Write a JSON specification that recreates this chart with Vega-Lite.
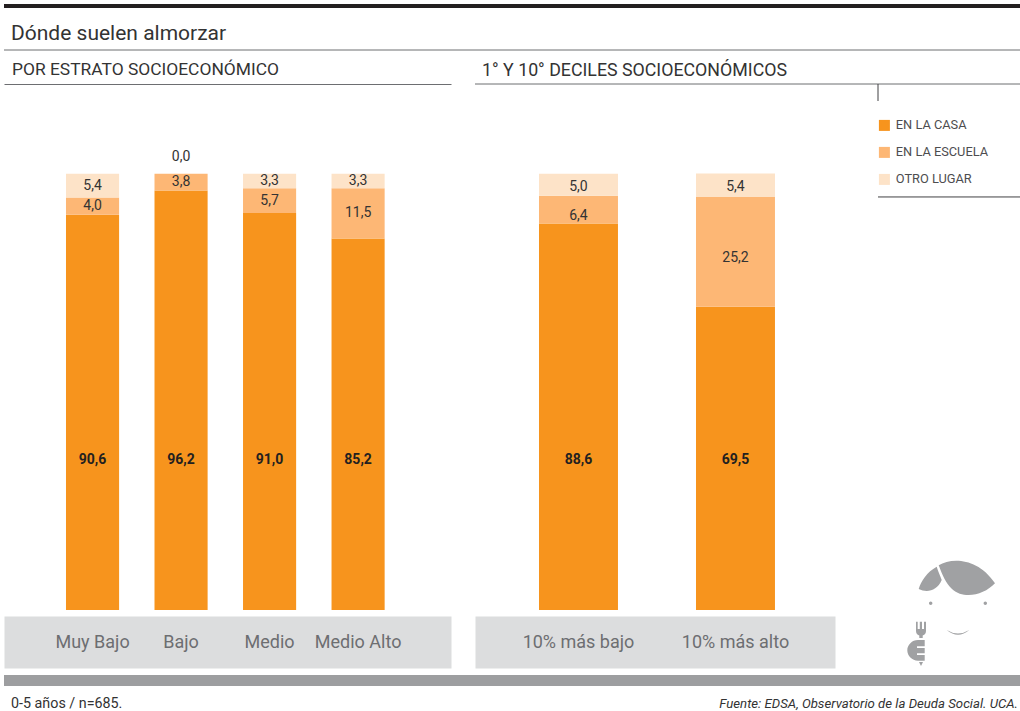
{
"$schema":"https://vega.github.io/schema/vega-lite/v6.json",
"padding":{"left":2,"top":4,"right":0,"bottom":0},
"background":"white",
"spacing":7,
"config":{"view":{"stroke":null},"font":"Roboto","title":{"font":"Roboto","fontWeight":"normal","color":"#333333"}},
"datasets":{
"estrato":[
{"cat":"Muy Bajo","grupo":"EN LA CASA","orden":1,"valor":90.6,"etiqueta":"90,6"},
{"cat":"Muy Bajo","grupo":"EN LA ESCUELA","orden":2,"valor":4.0,"etiqueta":"4,0"},
{"cat":"Muy Bajo","grupo":"OTRO LUGAR","orden":3,"valor":5.4,"etiqueta":"5,4"},
{"cat":"Bajo","grupo":"EN LA CASA","orden":1,"valor":96.2,"etiqueta":"96,2"},
{"cat":"Bajo","grupo":"EN LA ESCUELA","orden":2,"valor":3.8,"etiqueta":"3,8"},
{"cat":"Bajo","grupo":"OTRO LUGAR","orden":3,"valor":0.0,"etiqueta":"0,0"},
{"cat":"Medio","grupo":"EN LA CASA","orden":1,"valor":91.0,"etiqueta":"91,0"},
{"cat":"Medio","grupo":"EN LA ESCUELA","orden":2,"valor":5.7,"etiqueta":"5,7"},
{"cat":"Medio","grupo":"OTRO LUGAR","orden":3,"valor":3.3,"etiqueta":"3,3"},
{"cat":"Medio Alto","grupo":"EN LA CASA","orden":1,"valor":85.2,"etiqueta":"85,2"},
{"cat":"Medio Alto","grupo":"EN LA ESCUELA","orden":2,"valor":11.5,"etiqueta":"11,5"},
{"cat":"Medio Alto","grupo":"OTRO LUGAR","orden":3,"valor":3.3,"etiqueta":"3,3"}],
"deciles":[
{"cat":"10% más bajo","grupo":"EN LA CASA","orden":1,"valor":88.6,"etiqueta":"88,6"},
{"cat":"10% más bajo","grupo":"EN LA ESCUELA","orden":2,"valor":6.4,"etiqueta":"6,4"},
{"cat":"10% más bajo","grupo":"OTRO LUGAR","orden":3,"valor":5.0,"etiqueta":"5,0"},
{"cat":"10% más alto","grupo":"EN LA CASA","orden":1,"valor":69.5,"etiqueta":"69,5"},
{"cat":"10% más alto","grupo":"EN LA ESCUELA","orden":2,"valor":25.2,"etiqueta":"25,2"},
{"cat":"10% más alto","grupo":"OTRO LUGAR","orden":3,"valor":5.4,"etiqueta":"5,4"}],
"fila":[{"n":1}]
},
"resolve":{"scale":{"color":"independent"},"legend":{"color":"independent"}},
"vconcat":[
{"width":1016,"height":47,
"title":{"text":"Dónde suelen almorzar","anchor":"start","frame":"group","offset":-40,"dx":7,"fontSize":21,"color":"#333333"},
"data":{"name":"fila"},
"layer":[
{"mark":{"type":"rule","color":"#231f20","strokeWidth":4},"encoding":{"y":{"datum":1,"type":"quantitative","scale":{"domain":[0,1]},"axis":null}}},
{"mark":{"type":"rule","color":"#6d6e71","strokeWidth":1},"encoding":{"y":{"datum":0.0638,"type":"quantitative","scale":{"domain":[0,1]},"axis":null}}}
]},
{"bounds":"flush","spacing":0,
"resolve":{"scale":{"color":"independent"},"legend":{"color":"independent"}},
"hconcat":[
{"width":471,"height":526,
"title":{"text":"POR ESTRATO SOCIOECONÓMICO","anchor":"start","frame":"group","offset":6,"dx":8,"fontSize":17.4,"color":"#333333"},
"data":{"name":"estrato"},
"transform":[
{"stack":"valor","groupby":["cat"],"sort":[{"field":"orden","order":"ascending"}],"as":["y0","y1"]},
{"calculate":"(datum.y0+datum.y1)/2","as":"medio"}],
"resolve":{"axis":{"x":"independent"}},
"layer":[
{"mark":{"type":"bar"},
"encoding":{
"x":{"field":"cat","type":"nominal","sort":["Muy Bajo","Bajo","Medio","Medio Alto"],
"scale":{"range":[0,447],"paddingInner":0.4,"paddingOuter":0.725,"align":0.483},
"axis":{"title":null,"orient":"bottom","offset":32,"domainWidth":52,"domainColor":"#dcddde","ticks":false,"labels":false}},
"y":{"field":"y0","type":"quantitative","scale":{"domain":[0,120.6],"nice":false},"axis":null},
"y2":{"field":"y1"},
"color":{"field":"grupo","type":"nominal","scale":{"domain":["EN LA CASA","EN LA ESCUELA","OTRO LUGAR"],"range":["#f7941d","#fdb775","#fde3c8"]},"legend":null}}},
{"transform":[{"filter":"datum.orden>1 && datum.valor>0"}],
"mark":{"type":"text","fontSize":14,"color":"#333333","baseline":"middle"},
"encoding":{"x":{"field":"cat","type":"nominal","sort":["Muy Bajo","Bajo","Medio","Medio Alto"],
"axis":{"title":null,"orient":"bottom","offset":32,"domain":false,"ticks":false,"labelAngle":0,"labelPadding":0,"labelBaseline":"middle","labelFontSize":18,"labelColor":"#6d6e71","labelFont":"Roboto"}},"y":{"field":"medio","type":"quantitative"},"text":{"field":"etiqueta"}}},
{"transform":[{"filter":"datum.valor==0"}],
"mark":{"type":"text","fontSize":14,"color":"#333333","baseline":"middle","dy":-17},
"encoding":{"x":{"field":"cat","type":"nominal","sort":["Muy Bajo","Bajo","Medio","Medio Alto"],
"axis":{"title":null,"orient":"top","domainColor":"#6d6e71","domainWidth":1,"ticks":false,"labels":false}},"y":{"field":"medio","type":"quantitative"},"text":{"field":"etiqueta"}}},
{"transform":[{"filter":"datum.orden==1"}],
"mark":{"type":"text","fontSize":14,"fontWeight":"bold","color":"#231f20","baseline":"middle"},
"encoding":{"x":{"field":"cat","type":"nominal","sort":["Muy Bajo","Bajo","Medio","Medio Alto"],"axis":null},"y":{"datum":34.5,"type":"quantitative"},"text":{"field":"etiqueta"}}}
]},
{"width":403,"height":526,
"title":{"text":"1° Y 10° DECILES SOCIOECONÓMICOS","anchor":"start","frame":"group","offset":4,"dx":7,"fontSize":17.8,"color":"#333333"},
"data":{"name":"deciles"},
"transform":[
{"stack":"valor","groupby":["cat"],"sort":[{"field":"orden","order":"ascending"}],"as":["y0","y1"]},
{"calculate":"(datum.y0+datum.y1)/2","as":"medio"}],
"resolve":{"axis":{"x":"independent"}},
"layer":[
{"mark":{"type":"bar"},
"encoding":{
"x":{"field":"cat","type":"nominal","sort":["10% más bajo","10% más alto"],
"scale":{"range":[0,360],"paddingInner":0.497,"paddingOuter":0.395,"align":0.516},
"axis":{"title":null,"orient":"bottom","offset":32,"domainWidth":52,"domainColor":"#dcddde","ticks":false,"labels":false}},
"y":{"field":"y0","type":"quantitative","scale":{"domain":[0,120.6],"nice":false},"axis":null},
"y2":{"field":"y1"},
"color":{"field":"grupo","type":"nominal","scale":{"domain":["EN LA CASA","EN LA ESCUELA","OTRO LUGAR"],"range":["#f7941d","#fdb775","#fde3c8"]},
"legend":{"title":null,"orient":"none","legendX":403,"legendY":35,"symbolType":"square","symbolSize":121,"symbolStrokeWidth":0,"labelFontSize":12.8,"labelColor":"#4d4d4f","labelFont":"Roboto","labelOffset":5,"rowPadding":13,"padding":0}}}},
{"transform":[{"filter":"datum.orden==3"}],
"mark":{"type":"text","fontSize":14,"color":"#333333","baseline":"middle","dy":2},
"encoding":{"x":{"field":"cat","type":"nominal","sort":["10% más bajo","10% más alto"],
"axis":{"title":null,"orient":"bottom","offset":32,"domain":false,"ticks":false,"labelAngle":0,"labelPadding":0,"labelBaseline":"middle","labelFontSize":18,"labelColor":"#6d6e71","labelFont":"Roboto"}},"y":{"field":"medio","type":"quantitative"},"text":{"field":"etiqueta"}}},
{"transform":[{"filter":"datum.orden==2"}],
"mark":{"type":"text","fontSize":14,"color":"#333333","baseline":"middle","dy":6},
"encoding":{"x":{"field":"cat","type":"nominal","sort":["10% más bajo","10% más alto"],"axis":null},"y":{"field":"medio","type":"quantitative"},"text":{"field":"etiqueta"}}},
{"transform":[{"filter":"datum.orden==1"}],
"mark":{"type":"text","fontSize":14,"fontWeight":"bold","color":"#231f20","baseline":"middle"},
"encoding":{"x":{"field":"cat","type":"nominal","sort":["10% más bajo","10% más alto"],"axis":null},"y":{"datum":34.5,"type":"quantitative"},"text":{"field":"etiqueta"}}},
{"data":{"name":"fila"},"transform":[],"mark":{"type":"rule","color":"#6d6e71","strokeWidth":1},"encoding":{"y":{"datum":120.6,"type":"quantitative"}}}
]},
{"width":142,"height":526,
"data":{"name":"fila"},
"layer":[
{"mark":{"type":"rule","color":"#6d6e71","strokeWidth":1},"encoding":{"y":{"datum":120.6,"type":"quantitative","scale":{"domain":[0,120.6],"nice":false},"axis":null}}},
{"mark":{"type":"rule","color":"#414042","strokeWidth":1},"encoding":{"x":{"datum":0,"type":"quantitative","scale":{"domain":[0,1]},"axis":null},"y":{"datum":120.6,"type":"quantitative"},"y2":{"datum":116.7}}},
{"mark":{"type":"rule","color":"#414042","strokeWidth":1},"encoding":{"y":{"datum":94.7,"type":"quantitative"}}},
{"mark":{"type":"point","filled":true,"opacity":1,"size":4,"strokeWidth":0,"color":"#a0a1a3",
"shape":"M-10.3 -44.7C2 -52 28 -53 46 -26.7C35 -15 15 -10 3 -21C-3 -26 -7 -36 -10.3 -44.7ZM-12.3 -43.3C-22 -38 -28 -29 -30.3 -21C-22 -17 -12 -19 -7.3 -30C-9 -35 -11 -39 -12.3 -43.3ZM-20 -6.7A1.7 1.7 0 1 0 -16.6 -6.7A1.7 1.7 0 1 0 -20 -6.7ZM34.6 -6.7A1.7 1.7 0 1 0 38 -6.7A1.7 1.7 0 1 0 34.6 -6.7ZM-2.3 20Q9 29.5 20.3 20Q9 27 -2.3 20ZM-33 11.7L-31.3 11.7L-31.3 19L-29.2 19L-29.2 11.7L-27 11.7L-27 19L-25 19L-25 11.7L-23 11.7L-23 21C-23 24 -25 25 -26.3 25.5L-26.3 28L-29.7 28L-29.7 25.5C-31 25 -33 24 -33 21ZM-24.3 30L-31 30C-37 30 -41.7 35 -41.7 40.3C-41.7 46 -37 50.7 -31 50.7L-24.3 50.7L-24.3 45L-32 45L-32 43.3L-24.3 43.3L-24.3 38L-32 38L-32 36.3L-24.3 36.3ZM-30 52L-26 52L-28 56Z"},
"encoding":{"x":{"datum":0.5,"type":"quantitative"},"y":{"datum":0,"type":"quantitative"}}}
]}
]},
{"width":1016,"height":38,
"layer":[
{"data":{"name":"fila"},"mark":{"type":"rect","color":"#9d9ea0"},
"encoding":{"x":{"datum":0,"type":"quantitative","scale":{"domain":[0,1]},"axis":null},"x2":{"datum":1},"y":{"datum":0.947,"type":"quantitative","scale":{"domain":[0,1]},"axis":null},"y2":{"datum":0.658}}},
{"data":{"values":[{"nota":"0-5 años / n=685."}]},"mark":{"type":"text","align":"left","baseline":"middle","dx":7,"fontSize":14.3,"color":"#333333"},
"encoding":{"x":{"datum":0,"type":"quantitative"},"y":{"datum":0.184,"type":"quantitative"},"text":{"field":"nota"}}},
{"data":{"values":[{"nota":"Fuente: EDSA, Observatorio de la Deuda Social. UCA."}]},"mark":{"type":"text","align":"right","baseline":"middle","dx":-2,"fontSize":13.2,"fontStyle":"italic","color":"#333333"},
"encoding":{"x":{"datum":1,"type":"quantitative"},"y":{"datum":0.184,"type":"quantitative"},"text":{"field":"nota"}}}
]}
]
}
